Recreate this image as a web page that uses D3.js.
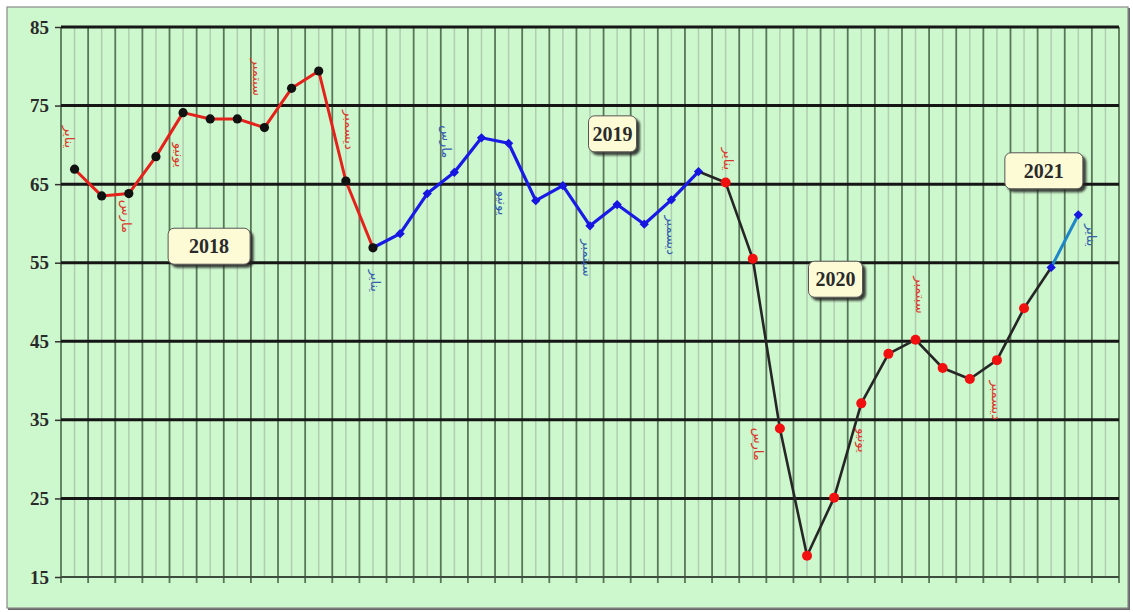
<!DOCTYPE html>
<html>
<head>
<meta charset="utf-8">
<script src="https://cdn.jsdelivr.net/npm/d3@7"></script>
<style>
  body { margin: 0; background: #fff; }
  svg { display: block; }
</style>
</head>
<body>
<svg id="chart"></svg>
<script>
// monthly values
const values2018 = [66.9, 63.5, 63.8, 68.5, 74.1, 73.3, 73.3, 72.2, 77.2, 79.4, 65.4, 56.9];
const values2019 = [58.7, 63.8, 66.5, 70.9, 70.2, 62.9, 64.8, 59.7, 62.4, 59.9, 63.0, 66.6];
const values2020 = [65.2, 55.5, 33.9, 17.7, 25.1, 37.1, 43.4, 45.2, 41.6, 40.2, 42.6, 49.2];
const values2021 = [54.4, 61.1];

const yTicks = [15, 25, 35, 45, 55, 65, 75, 85];

// month notes: [month name, index, value, colour group]
const monthNotes = [
  ["يناير", -0.2, 71.0, "r"], ["مارس", 1.9, 60.9, "r"], ["يونيو", 3.85, 68.7, "r"],
  ["سبتمبر", 6.76, 78.6, "r"], ["ديسمبر", 10.15, 71.9, "r"],
  ["يناير", 11.08, 52.7, "b"], ["مارس", 13.7, 70.4, "b"], ["يونيو", 15.76, 62.6, "b"],
  ["سبتمبر", 18.9, 55.6, "b"], ["ديسمبر", 22.0, 58.5, "b"],
  ["يناير", 24.1, 68.2, "r"], ["مارس", 25.2, 31.9, "r"], ["يونيو", 29.06, 32.4, "r"],
  ["سبتمبر", 31.2, 50.9, "r"], ["ديسمبر", 34.0, 37.5, "r"],
  ["يناير", 37.5, 58.5, "b"]
];

// year boxes: [year, index, value]
const yearNotes = [["2018", 4.96, 57.1], ["2019", 19.83, 71.4], ["2020", 28.05, 52.9], ["2021", 35.73, 66.7]];
const yearBoxW = { "2018": 82, "2019": 48, "2020": 54, "2021": 78 };

const allValues = values2018.concat(values2019, values2020, values2021);
const data = allValues.map((v, i) => ({ i, v }));
const n1 = values2018.length, n2 = n1 + values2019.length, n3 = n2 + values2020.length;

const W = 1133, H = 612;
const mLeft = 61, mRight = 1119, mTop = 27, mBottom = 577;
const nBands = 39;

const svg = d3.select("#chart").attr("width", W).attr("height", H);

const defs = svg.append("defs");
const sh = defs.append("filter").attr("id", "shadow").attr("x", "-20%").attr("y", "-20%").attr("width", "150%").attr("height", "160%");
sh.append("feDropShadow").attr("dx", 3).attr("dy", 3).attr("stdDeviation", 0.8)
  .attr("flood-color", "#222").attr("flood-opacity", 0.85);

// outer panel
svg.append("rect").attr("x", 8).attr("y", 8).attr("width", 1122).attr("height", 602).attr("fill", "#666");
svg.append("rect").attr("x", 7).attr("y", 7).attr("width", 1121).attr("height", 601)
  .attr("fill", "#cdf7cd").attr("stroke", "#8a8a8a").attr("stroke-width", 1.2);

const x = d3.scaleLinear().domain([-0.5, nBands - 0.5]).range([mLeft, mRight]);
const y = d3.scaleLinear().domain([15, 85]).range([mBottom, mTop]);

// light centre lines
svg.append("g").selectAll("line").data(d3.range(nBands)).enter().append("line")
  .attr("x1", d => x(d)).attr("x2", d => x(d))
  .attr("y1", mTop).attr("y2", mBottom)
  .attr("stroke", "#b0cdb0").attr("stroke-width", 1.5);

// dark band lines
svg.append("g").selectAll("line").data(d3.range(nBands + 1)).enter().append("line")
  .attr("x1", d => x(d - 0.5)).attr("x2", d => x(d - 0.5))
  .attr("y1", mTop).attr("y2", mBottom + 6)
  .attr("stroke", "#587758").attr("stroke-width", 1.8);

// y axis with horizontal grid
const yAxis = svg.append("g").attr("transform", `translate(${mLeft},0)`)
  .call(d3.axisLeft(y).tickValues(yTicks).tickSize(6).tickPadding(6));
yAxis.select(".domain").remove();
yAxis.selectAll(".tick line").attr("stroke", "#333").attr("stroke-width", 1.5);
yAxis.selectAll(".tick text")
  .attr("fill", "#2a2a2a")
  .style("font-family", "'Liberation Serif', serif")
  .style("font-weight", "bold")
  .style("font-size", "19px");

svg.append("g").selectAll("line").data(yTicks).enter().append("line")
  .attr("x1", mLeft).attr("x2", mRight)
  .attr("y1", d => y(d)).attr("y2", d => y(d))
  .attr("stroke", d => d === 15 ? "#3d4d3d" : "#161616")
  .attr("stroke-width", d => d === 15 ? 2 : 3);

// lines
const line = d3.line().x(d => x(d.i)).y(d => y(d.v));
const segs = [
  { from: 0, to: n1 - 1, color: "#e4221b", w: 3 },
  { from: n1 - 1, to: n2 - 1, color: "#1a1ae6", w: 3.2 },
  { from: n2 - 1, to: n3, color: "#262626", w: 2.6 },
  { from: n3, to: allValues.length - 1, color: "#1d86c8", w: 3 }
];
svg.append("g").selectAll("path").data(segs).enter().append("path")
  .attr("d", s => line(data.slice(s.from, s.to + 1)))
  .attr("fill", "none").attr("stroke", s => s.color).attr("stroke-width", s => s.w)
  .attr("stroke-linejoin", "round");

// markers
const mk = svg.append("g");
mk.selectAll(".m18").data(data.slice(0, n1)).enter().append("circle")
  .attr("cx", d => x(d.i)).attr("cy", d => y(d.v)).attr("r", 4.6).attr("fill", "#111");
mk.selectAll(".m20").data(data.slice(n2, n3)).enter().append("circle")
  .attr("cx", d => x(d.i)).attr("cy", d => y(d.v)).attr("r", 5).attr("fill", "#f01010");
mk.selectAll(".mb").data(data.slice(n1, n2).concat(data.slice(n3))).enter().append("path")
  .attr("d", d3.symbol(d3.symbolDiamond2, 55))
  .attr("transform", d => `translate(${x(d.i)},${y(d.v)})`)
  .attr("fill", "#1616e0");

// month names
svg.append("g").selectAll("text").data(monthNotes).enter().append("text")
  .attr("transform", d => `translate(${x(d[1])},${y(d[2])}) rotate(90)`)
  .attr("text-anchor", "middle").attr("dominant-baseline", "central")
  .attr("fill", d => d[3] === "r" ? "#d9392c" : "#3560ad")
  .style("font-family", "'DejaVu Sans', sans-serif")
  .style("font-size", "13px")
  .text(d => d[0]);

// year boxes
const yb = svg.append("g").selectAll("g").data(yearNotes).enter().append("g")
  .attr("transform", d => `translate(${x(d[1])},${y(d[2])})`);
yb.append("rect")
  .attr("x", d => -yearBoxW[d[0]] / 2).attr("y", -18)
  .attr("width", d => yearBoxW[d[0]]).attr("height", 36)
  .attr("rx", 6).attr("fill", "#fdfbd6").attr("stroke", "#555").attr("stroke-width", 1)
  .attr("filter", "url(#shadow)");
yb.append("text")
  .attr("text-anchor", "middle").attr("dy", "0.35em")
  .attr("fill", "#2a2a2a")
  .style("font-family", "'Liberation Serif', serif")
  .style("font-weight", "bold")
  .style("font-size", "20px")
  .text(d => d[0]);
</script>
</body>
</html>
